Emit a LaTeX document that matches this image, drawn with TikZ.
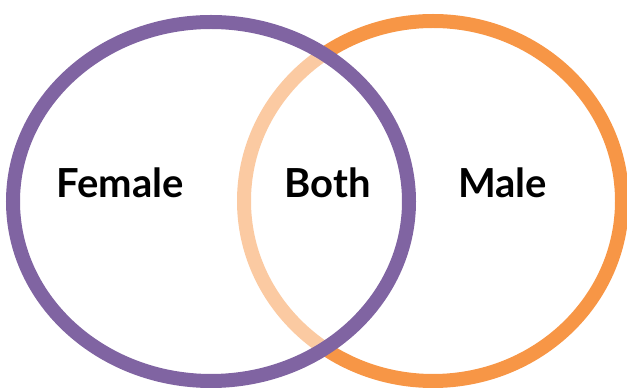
\documentclass[tikz,border=0pt]{standalone}
\usepackage{fontspec}
\setmainfont{Lato}
\definecolor{vpurple}{HTML}{8064A2}
\definecolor{vorange}{HTML}{F79646}
\tikzset{
  ring/.style={line width=14pt},
  lab/.style={font=\fontsize{40}{44}\selectfont\bfseries, text=black, inner sep=0pt, anchor=base}
}
\begin{document}
\begin{tikzpicture}[x=1pt,y=1pt]
\useasboundingbox (0,0) rectangle (627,388);
\clip (0,0) rectangle (627,388);
\coordinate (fc) at (211,186.5);
\coordinate (mc) at (433,187);
\draw[ring, vorange] (mc) ellipse [x radius=189, y radius=180];
\fill[white, fill opacity=0.5] (fc) ellipse [x radius=198, y radius=179.5];
\draw[ring, vpurple] (fc) ellipse [x radius=198, y radius=179.5];
\node[lab] (female) at (120,190) {Female};
\node[lab] (both) at (327.5,190) {Both};
\node[lab] (male) at (502.5,190) {Male};
\end{tikzpicture}
\end{document}
